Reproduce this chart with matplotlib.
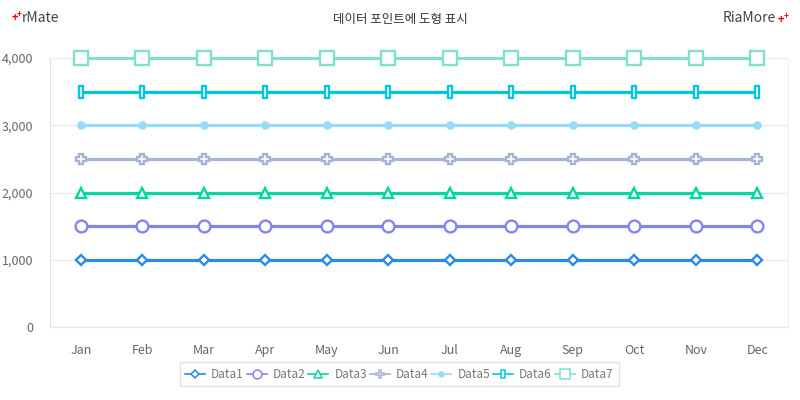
import matplotlib
matplotlib.use("Agg")
import matplotlib.pyplot as plt
from matplotlib.path import Path

plt.rcParams['font.family'] = ['Noto Sans CJK KR', 'DejaVu Sans']

months = ["Jan", "Feb", "Mar", "Apr", "May", "Jun", "Jul", "Aug", "Sep", "Oct", "Nov", "Dec"]
series_names = ["Data1", "Data2", "Data3", "Data4", "Data5", "Data6", "Data7"]
data1 = [1000] * 12
data2 = [1500] * 12
data3 = [2000] * 12
data4 = [2500] * 12
data5 = [3000] * 12
data6 = [3500] * 12
data7 = [4000] * 12
series_values = [data1, data2, data3, data4, data5, data6, data7]
y_ticks = [0, 1000, 2000, 3000, 4000]

colors = ["#2a8ae6", "#8484f0", "#06d6a0", "#a6b3d4", "#96dcf6", "#00c6e0", "#80dfcd"]
rect_marker = Path([(-0.4, -1), (0.4, -1), (0.4, 1), (-0.4, 1), (-0.4, -1)],
                   [Path.MOVETO, Path.LINETO, Path.LINETO, Path.LINETO, Path.CLOSEPOLY])
markers = ["D", "o", "^", "P", "o", rect_marker, "s"]
msizes = [5, 8.5, 7, 7.5, 4.5, 8, 9.5]
faces = ["white", "white", "white", "white", None, "white", "white"]

fig = plt.figure(figsize=(8, 4), dpi=100)
ax = fig.add_axes([0.0625, 0.1825, 0.9225, 0.6725])

x = list(range(len(months)))
for name, vals, c, m, ms, fc in zip(series_names, series_values, colors, markers, msizes, faces):
    ax.plot(x, vals, color=c, lw=2.3, marker=m, markersize=ms,
            markerfacecolor=(c if fc is None else fc), markeredgecolor=c,
            markeredgewidth=1.7, label=name, zorder=3, clip_on=False)

ax.set_xlim(-0.5, 11.5)
ax.set_ylim(0, 4000)
ax.set_xticks(x)
ax.set_xticklabels(months)
ax.set_yticks(y_ticks)
ax.set_yticklabels([f"{v:,}" for v in y_ticks])
ax.grid(axis='y', color="#ebebeb", lw=1)
ax.set_axisbelow(True)
ax.spines["top"].set_visible(False)
ax.spines["left"].set_color("#e0e0e0")
ax.spines["bottom"].set_color("#e8e8e8")
ax.spines["right"].set_color("#f0f0f0")
ax.tick_params(length=0, colors="#666666", labelsize=9)
ax.tick_params(axis='y', pad=12)
ax.tick_params(axis='x', pad=12)

leg = ax.legend(loc="upper center", bbox_to_anchor=(0.473, -0.11), ncol=7, frameon=True,
                fontsize=8.5, handlelength=1.7, handletextpad=0.5, columnspacing=0.25,
                borderpad=0.45, fancybox=False, edgecolor="#dddddd")
for t in leg.get_texts():
    t.set_color("#777777")
for h in leg.legend_handles:
    h.set_linewidth(1.2)
    h.set_markersize(h.get_markersize() * 0.75)
    h.set_markeredgewidth(1.1)

fig.text(0.5, 0.95, "데이터 포인트에 도형 표시", ha="center", va="center", fontsize=9, color="#333333")
fig.text(0.014, 0.955, "+", color="red", fontsize=8, ha="left", va="center", fontweight="bold")
fig.text(0.021, 0.965, "+", color="red", fontsize=6, ha="left", va="center", fontweight="bold")
fig.text(0.027, 0.955, "rMate", color="#444444", fontsize=10, ha="left", va="center")
fig.text(0.97, 0.955, "RiaMore", color="#444444", fontsize=10, ha="right", va="center")
fig.text(0.972, 0.95, "+", color="red", fontsize=8, ha="left", va="center", fontweight="bold")
fig.text(0.979, 0.96, "+", color="red", fontsize=6, ha="left", va="center", fontweight="bold")

fig.savefig("out.png", dpi=100)
